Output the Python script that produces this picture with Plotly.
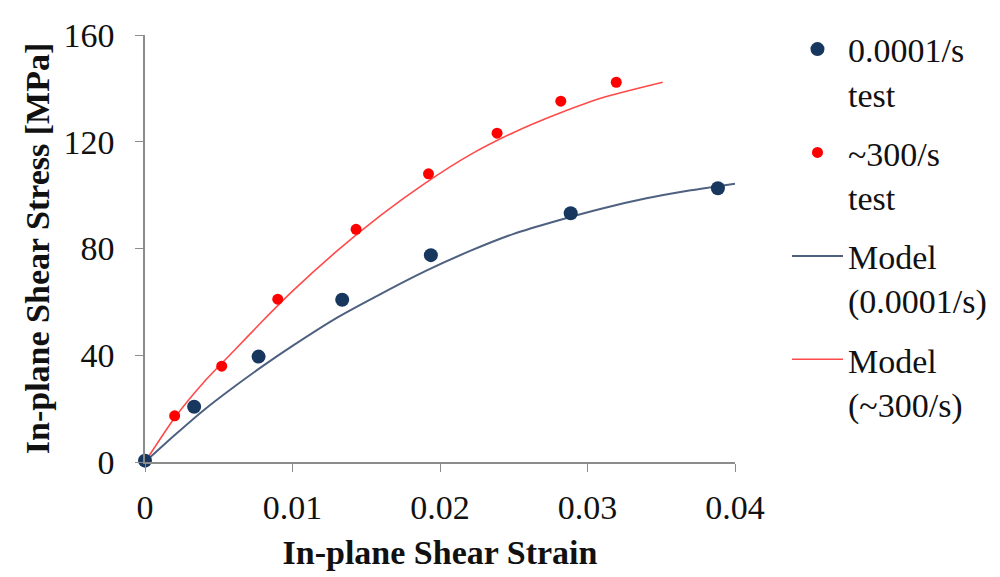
import plotly.graph_objects as go

# Test data
slow_test_x = [0.0, 0.00333, 0.0077, 0.01337, 0.01938, 0.02886, 0.03884]
slow_test_y = [0.5, 20.7, 39.5, 60.8, 77.5, 93.2, 102.6]
fast_test_x = [0.00201, 0.0052, 0.0090, 0.01431, 0.01922, 0.02387, 0.02819, 0.03195]
fast_test_y = [17.3, 35.9, 61.0, 87.2, 108.0, 123.2, 135.2, 142.3]

# Model curves
slow_model_x = [0, 0.002, 0.004, 0.006, 0.008, 0.010, 0.013, 0.016, 0.019, 0.022, 0.025, 0.028, 0.031, 0.034, 0.037, 0.040]
slow_model_y = [0, 10, 19.5, 28, 36, 43.5, 54, 63, 71.5, 79, 85.5, 90.5, 95, 98.8, 101.8, 104.3]
fast_model_x = [0, 0.002, 0.004, 0.006, 0.008, 0.010, 0.013, 0.016, 0.019, 0.022, 0.025, 0.028, 0.031, 0.0351]
fast_model_y = [0, 16.5, 30, 41.5, 53, 64, 79, 92.5, 104.5, 115, 123.5, 130.5, 136.5, 142.3]

x_ticks = [0, 0.01, 0.02, 0.03, 0.04]
x_tick_labels = ["0", "0.01", "0.02", "0.03", "0.04"]
y_ticks = [0, 40, 80, 120, 160]

names = ["0.0001/s<br>test", "~300/s<br>test", "Model<br>(0.0001/s)", "Model<br>(~300/s)"]

FONT = "Liberation Serif, Times New Roman, serif"
NAVY = "#17375E"
RED = "#FF0000"
FS = 34

fig = go.Figure()
fig.add_trace(go.Scatter(x=slow_model_x, y=slow_model_y, mode="lines", name=names[2],
                         line=dict(color="#4F6180", width=2, shape="spline", smoothing=0.6),
                         legendgroup="c", legendrank=3))
fig.add_trace(go.Scatter(x=fast_model_x, y=fast_model_y, mode="lines", name=names[3],
                         line=dict(color="#FF4A4A", width=1.6, shape="spline", smoothing=0.6),
                         legendgroup="d", legendrank=4))
fig.add_trace(go.Scatter(x=slow_test_x, y=slow_test_y, mode="markers", name=names[0],
                         marker=dict(color=NAVY, size=14), legendgroup="a", legendrank=1,
                         cliponaxis=False))
fig.add_trace(go.Scatter(x=fast_test_x, y=fast_test_y, mode="markers", name=names[1],
                         marker=dict(color=RED, size=11), legendgroup="b", legendrank=2,
                         cliponaxis=False))

axis_common = dict(showgrid=False, zeroline=False, showline=True, linecolor="#8C8C8C",
                   linewidth=1.5, ticks="outside", tickcolor="#8C8C8C", ticklen=8,
                   automargin=False,
                   tickfont=dict(family=FONT, size=FS, color="#111111"))

# the page body adds an 8px offset; margins compensate for it
fig.update_layout(
    width=1000, height=577,
    margin=dict(l=137, r=273, t=16, b=123),
    paper_bgcolor="white", plot_bgcolor="white",
    font=dict(family=FONT, size=FS, color="#111111"),
    xaxis=dict(range=[0, 0.04], tickvals=x_ticks, ticktext=x_tick_labels,
               ticklabelstandoff=6,
               title=dict(text="<b>In-plane Shear Strain</b>", font=dict(family=FONT, size=FS), standoff=16),
               **axis_common),
    yaxis=dict(range=[0, 160], tickvals=y_ticks, ticklabelstandoff=14,
               title=dict(text="<b>In-plane Shear Stress [MPa]</b>", font=dict(family=FONT, size=FS), standoff=4),
               **axis_common),
    legend=dict(x=1.0881, y=1.034, xanchor="left", yanchor="top",
                traceorder="grouped", maxheight=560,
                tracegroupgap=12, valign="top", font=dict(family=FONT, size=FS, color="#111111"),
                bgcolor="rgba(0,0,0,0)", itemwidth=51),
    showlegend=True,
)

fig.write_html("out.html")
